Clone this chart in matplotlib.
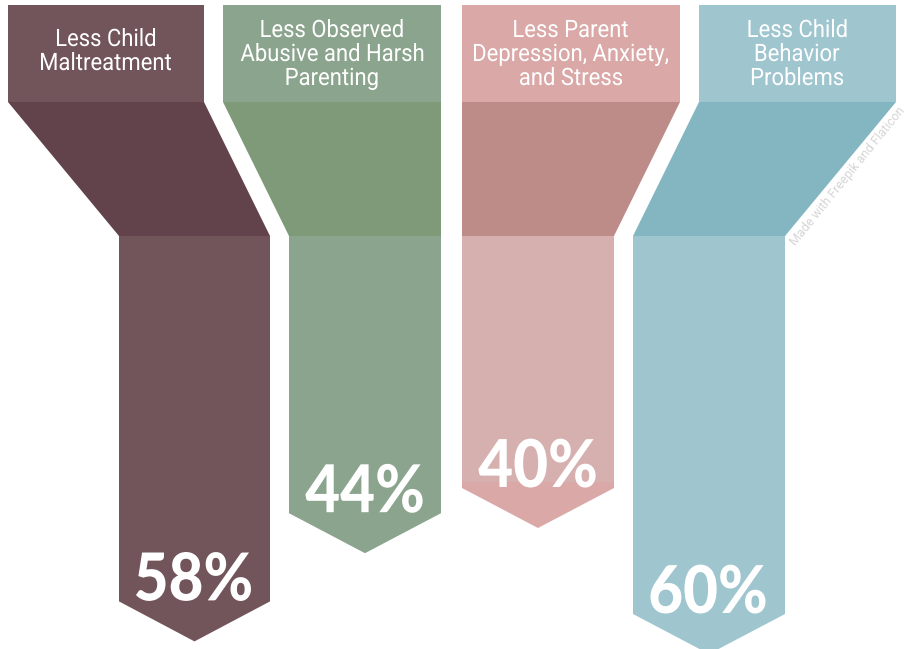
import matplotlib.pyplot as plt
from matplotlib.patches import Polygon, Rectangle, PathPatch
from matplotlib.textpath import TextPath
from matplotlib.font_manager import FontProperties
from matplotlib.transforms import Affine2D

# outcomes and the reductions shown on each arrow
labels = ['Less Child\nMaltreatment',
          'Less Observed\nAbusive and Harsh\nParenting',
          'Less Parent\nDepression, Anxiety,\nand Stress',
          'Less Child\nBehavior\nProblems']
values = [58, 44, 40, 60]

head_colors = ['#72545b', '#8ba48d', '#d9a8a7', '#9fc5cf']
funnel_colors = ['#62434b', '#7e9a78', '#bd8b88', '#83b6c1']
stem_colors = ['#72545b', '#8ba48d', '#d5b0af', '#9fc5cf']

# layout (pixels)
head_x = [(8, 204), (223, 441), (462, 680), (699, 896)]
stem_x = [(119, 270), (289, 441), (462, 614), (633, 785)]
head_top, head_bot, stem_top = 5, 102, 236
px_per_pct = 6.3
tip_h = 40

fig = plt.figure(figsize=(9.08, 6.49), dpi=100)
ax = fig.add_axes([0, 0, 1, 1])
ax.set_xlim(0, 908)
ax.set_ylim(649, 0)
ax.axis('off')

title_fp = FontProperties(family='Roboto')
pct_fp = FontProperties(family='Lato', weight='black')


def path_text(s, x, y_base, size, sx, fp, color):
    # draws text as a path so it can be squeezed horizontally (condensed look)
    tp = TextPath((0, 0), s, size=size, prop=fp)
    bb = tp.get_extents()
    tr = Affine2D().translate(-(bb.x0 + bb.x1) / 2, 0).scale(sx, -1).translate(x, y_base)
    ax.add_patch(PathPatch(tr.transform_path(tp), color=color, lw=0))


title_size = 24
title_sx = 130 / TextPath((0, 0), 'Maltreatment', size=title_size, prop=title_fp).get_extents().width
pct_size = 66
pct_sx = 115 / TextPath((0, 0), '58%', size=pct_size, prop=pct_fp).get_extents().width
pct_sx = min(pct_sx, 1.0)

for i in range(4):
    hx0, hx1 = head_x[i]
    sx0, sx1 = stem_x[i]
    # header box
    ax.add_patch(Rectangle((hx0, head_top), hx1 - hx0, head_bot - head_top,
                           color=head_colors[i], lw=0))
    # funnel
    ax.add_patch(Polygon([(hx0, head_bot), (hx1, head_bot), (sx1, stem_top), (sx0, stem_top)],
                         closed=True, color=funnel_colors[i], lw=0))
    # stem as bar whose length follows the value
    cx = (sx0 + sx1) / 2
    length = values[i] * px_per_pct
    ax.bar(cx, length, width=sx1 - sx0, bottom=stem_top, color=stem_colors[i], lw=0)
    y0 = stem_top + length
    ax.add_patch(Polygon([(sx0, y0 - 6), (sx1, y0 - 6), (sx1, y0), (cx, y0 + tip_h), (sx0, y0)],
                         closed=True, color=head_colors[i], lw=0))

    lines = labels[i].split('\n')
    n = len(lines)
    mid = 58 + (n - 2) * 3
    for j, line in enumerate(lines):
        yb = mid + (j - (n - 1) / 2) * 24
        path_text(line, (hx0 + hx1) / 2, yb, title_size, title_sx, title_fp, 'white')

    path_text(f'{values[i]}%', cx - 1, y0 - 1, pct_size, pct_sx, pct_fp, 'white')

ax.text(848, 176, 'Made with Freepik and Flaticon', rotation=51, ha='center', va='center',
        color='#d6d6d6', fontsize=9, family='Roboto', rotation_mode='anchor')

fig.savefig('out.png', dpi=100)
